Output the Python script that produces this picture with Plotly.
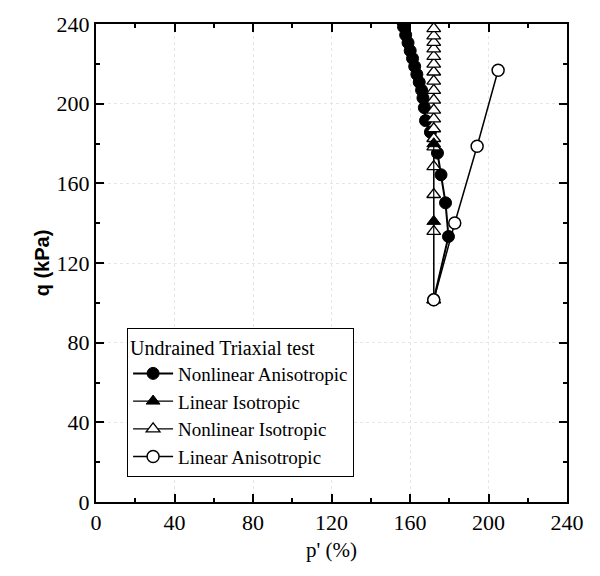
import plotly.graph_objects as go

# Nonlinear Anisotropic (filled circles)
na_p = [172.1, 179.6, 178.1, 175.8, 174.0, 170.4, 167.9, 167.3, 166.6, 165.9, 164.7, 163.5, 162.4, 161.3, 160.1, 159.0, 157.8, 156.7, 155.6]
na_q = [101.5, 133.3, 150.2, 164.3, 175.2, 185.7, 191.5, 198.0, 202.9, 206.8, 210.8, 214.7, 218.7, 222.7, 226.6, 230.6, 234.5, 238.6, 242.0]

# Linear Isotropic (filled triangles)
li_p = [172.1, 172.1, 172.1]
li_q = [101.5, 140.9, 179.9]

# Nonlinear Isotropic (open triangles)
ni_p = [172.1] * 19
ni_q = [101.5, 135.9, 154.4, 168.4, 178.3, 182.5, 187.4, 192.4, 196.8, 201.8, 206.7, 211.3, 215.9, 219.9, 223.7, 227.5, 230.8, 234.0, 237.7]

# Linear Anisotropic (open circles)
la_p = [172.1, 182.8, 194.2, 204.9]
la_q = [101.5, 140.1, 178.6, 216.8]

tick_vals = [0, 40, 80, 120, 160, 200, 240]

SERIF = "Liberation Serif, Times New Roman, serif"
SANS = "Liberation Sans, Arial, sans-serif"

fig = go.Figure()
fig.add_trace(go.Scatter(
    x=na_p, y=na_q, mode="lines+markers", name="Nonlinear Anisotropic", legendrank=1,
    line=dict(color="black", width=2),
    marker=dict(symbol="circle", size=12, color="black", line=dict(color="black", width=1)),
))
fig.add_trace(go.Scatter(
    x=ni_p, y=ni_q, mode="lines+markers", name="Nonlinear Isotropic", legendrank=3,
    line=dict(color="black", width=1.2),
    marker=dict(symbol="triangle-up", size=12, color="white", line=dict(color="black", width=1.3)),
))
fig.add_trace(go.Scatter(
    x=li_p, y=li_q, mode="lines+markers", name="Linear Isotropic", legendrank=2,
    line=dict(color="black", width=1.2),
    marker=dict(symbol="triangle-up", size=12, color="black", line=dict(color="black", width=1)),
))
fig.add_trace(go.Scatter(
    x=la_p, y=la_q, mode="lines+markers", name="Linear Anisotropic", legendrank=4,
    line=dict(color="black", width=1.5),
    marker=dict(symbol="circle", size=12, color="white", line=dict(color="black", width=1.5)),
))

def axis_style(title_text, title_font, standoff):
    return dict(
        range=[0, 240], tickvals=tick_vals, ticks="inside", ticklen=8, tickwidth=1.8,
        tickcolor="black", showline=True, linecolor="black", linewidth=2, mirror="ticks",
        showgrid=True, gridcolor="#e6e6e6", griddash="dot", gridwidth=1, zeroline=False,
        minor=dict(dtick=20, ticks="inside", ticklen=4, tickcolor="black", tickwidth=1.5, showgrid=False),
        tickfont=dict(family=SERIF, size=22, color="black"),
        title=dict(text=title_text, font=title_font, standoff=standoff),
    )

xa = axis_style("p' (%)", dict(family=SERIF, size=21, color="black"), 8)
ya = axis_style("<b>q (kPa)</b>", dict(family=SANS, size=20, color="black"), 2)

fig.update_layout(
    width=600, height=576,
    margin=dict(l=96, r=33, t=17, b=74),
    paper_bgcolor="white", plot_bgcolor="white",
    font=dict(family=SERIF, size=20, color="black"),
    xaxis=xa, yaxis=ya,
    showlegend=True,
    legend=dict(
        x=0.066, y=0.365, xanchor="left", yanchor="top",
        bgcolor="white", bordercolor="black", borderwidth=1,
        font=dict(family=SERIF, size=19, color="black"),
        title=dict(text="Undrained Triaxial test", side="top", font=dict(family=SERIF, size=20, color="black")),
        tracegroupgap=0, itemwidth=40,
    ),
)

fig.write_html("out.html")
